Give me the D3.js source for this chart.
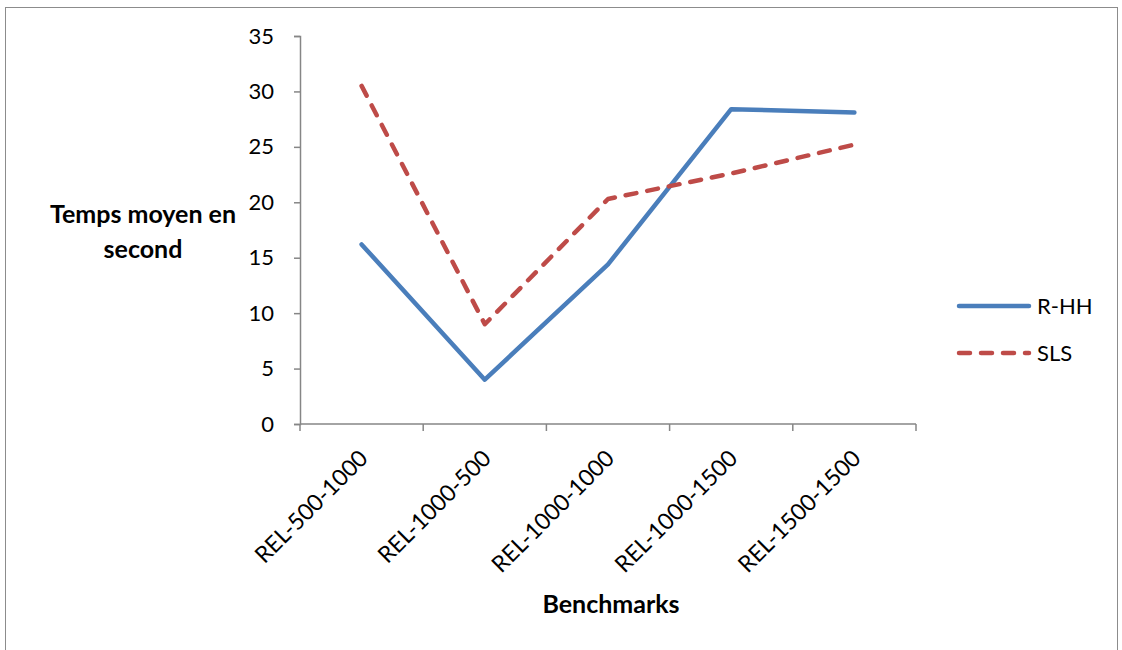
<!DOCTYPE html>
<html>
<head>
<meta charset="utf-8">
<script src="https://cdn.jsdelivr.net/npm/d3@7"></script>
<style>
  html, body { margin: 0; padding: 0; background: #fff; }
  svg { display: block; font-family: Lato, "Open Sans", "Liberation Sans", sans-serif; }
</style>
</head>
<body>
<svg id="chart" width="1122" height="650"></svg>
<script>
// Benchmark categories and average times (seconds)
const categories = ["REL-500-1000", "REL-1000-500", "REL-1000-1000", "REL-1000-1500", "REL-1500-1500"];
const seriesNames = ["R-HH", "SLS"];
const rhhValues = [16.2, 4.0, 14.4, 28.4, 28.1];
const slsValues = [30.5, 9.0, 20.3, 22.6, 25.2];
const yTicks = [0, 5, 10, 15, 20, 25, 30, 35];

const series = [
  { name: seriesNames[0], values: rhhValues, color: "#4a7ebb", dash: null },
  { name: seriesNames[1], values: slsValues, color: "#be4b48", dash: "11,11" }
];

const svg = d3.select("#chart");
const axisColor = "#868686";
const labelSize = 22;
const titleSize = 25;

// outer chart frame
svg.append("rect")
  .attr("x", 5.5).attr("y", 7.5)
  .attr("width", 1112).attr("height", 660)
  .attr("fill", "none").attr("stroke", "#8c8c8c").attr("stroke-width", 1);

const plot = { left: 300, right: 916, top: 36, bottom: 424 };

const x = d3.scaleBand().domain(categories).range([plot.left, plot.right]).padding(0);
const y = d3.scaleLinear().domain([0, 35]).range([plot.bottom, plot.top]);

// y axis
const yAxis = svg.append("g")
  .attr("transform", `translate(${plot.left},0)`)
  .call(d3.axisLeft(y).tickValues(yTicks).tickSize(6).tickPadding(20).tickFormat(d3.format("d")));
yAxis.select(".domain").attr("stroke", axisColor).attr("stroke-width", 1.5);
yAxis.selectAll(".tick line").attr("stroke", axisColor).attr("stroke-width", 1.5);
yAxis.selectAll(".tick text").attr("font-size", labelSize).attr("fill", "#000")
  .attr("font-family", "Lato, sans-serif");

// x axis with tick marks at band edges
const xAxisG = svg.append("g").attr("transform", `translate(0,${plot.bottom})`);
xAxisG.append("line")
  .attr("x1", plot.left).attr("x2", plot.right)
  .attr("stroke", axisColor).attr("stroke-width", 1.5);
const edges = categories.map(c => x(c)).concat([x(categories[categories.length - 1]) + x.bandwidth()]);
xAxisG.selectAll("line.edge").data(edges).join("line")
  .attr("class", "edge")
  .attr("x1", d => d).attr("x2", d => d)
  .attr("y1", 0).attr("y2", 7)
  .attr("stroke", axisColor).attr("stroke-width", 1.5);
xAxisG.selectAll("text.cat").data(categories).join("text")
  .attr("class", "cat")
  .attr("transform", d => `translate(${x(d) + x.bandwidth() / 2 + 2},${30}) rotate(-45)`)
  .attr("text-anchor", "end")
  .attr("dy", "0.35em")
  .attr("font-size", labelSize + 1)
  .attr("fill", "#000")
  .text(d => d);

// axis titles
svg.append("text")
  .attr("x", 611).attr("y", 613)
  .attr("text-anchor", "middle")
  .attr("font-size", titleSize).attr("font-weight", "bold")
  .text("Benchmarks");
const yTitle = svg.append("text")
  .attr("text-anchor", "middle")
  .attr("font-size", titleSize).attr("font-weight", "bold");
yTitle.append("tspan").attr("x", 143).attr("y", 223).text("Temps moyen en");
yTitle.append("tspan").attr("x", 143).attr("y", 258).text("second");

// series lines
const line = d3.line()
  .x((d, i) => x(categories[i]) + x.bandwidth() / 2)
  .y(d => y(d));

svg.selectAll("path.series").data(series).join("path")
  .attr("class", "series")
  .attr("d", d => line(d.values))
  .attr("fill", "none")
  .attr("stroke", d => d.color)
  .attr("stroke-width", 4.5)
  .attr("stroke-linejoin", "round")
  .attr("stroke-linecap", "round")
  .attr("stroke-dasharray", d => d.dash);

// legend
const legend = svg.append("g");
series.forEach((s, i) => {
  const ly = 306 + i * 47;
  legend.append("line")
    .attr("x1", 959).attr("x2", 1029)
    .attr("y1", ly).attr("y2", ly)
    .attr("stroke", s.color).attr("stroke-width", 4.5)
    .attr("stroke-linecap", "round")
    .attr("stroke-dasharray", s.dash);
  legend.append("text")
    .attr("x", 1037).attr("y", ly)
    .attr("dy", "0.35em")
    .attr("font-size", labelSize)
    .attr("fill", "#000")
    .text(s.name);
});
</script>
</body>
</html>
